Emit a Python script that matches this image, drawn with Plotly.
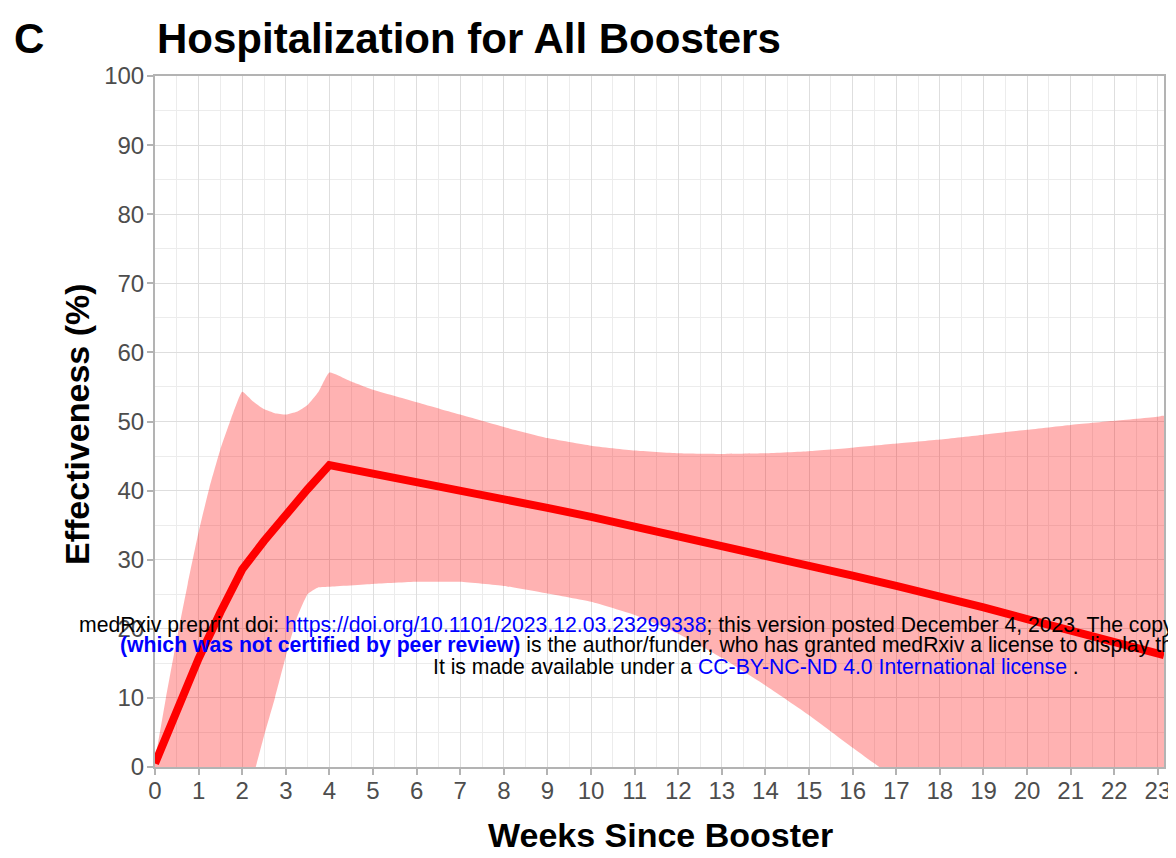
import plotly.graph_objects as go

# ---- data ----
weeks_line = [0, 0.5, 1, 1.5, 2, 2.5, 3, 3.5, 4, 5, 6, 7, 8, 9, 10, 11, 12, 13, 14,
              15, 16, 17, 18, 19, 20, 21, 22, 23, 23.14]
effectiveness = [0.5, 8.4, 15.7, 22.4, 28.6, 32.7, 36.6, 40.2, 43.7, 42.5, 41.3, 40.1,
                 38.8, 37.5, 36.2, 34.8, 33.5, 32.1, 30.7, 29.2, 27.7, 26.2, 24.7,
                 23.1, 21.4, 19.8, 18.1, 16.4, 16.2]

weeks_upper = [0, 0.25, 0.5, 0.75, 1, 1.25, 1.5, 1.75, 2, 2.25, 2.5, 2.75, 3, 3.25,
               3.5, 3.75, 4, 4.5, 5, 5.5, 6, 7, 8, 9, 10, 11, 12, 13, 14, 15, 16,
               17, 18, 19, 20, 21, 22, 23, 23.14]
upper_ci = [1, 10, 18.5, 26.5, 34, 40.5, 46, 50.5, 54.3, 52.9, 51.8, 51.2, 51.0, 51.4,
            52.4, 54.3, 57.1, 55.8, 54.6, 53.7, 52.8, 51.0, 49.2, 47.6, 46.5, 45.8,
            45.4, 45.3, 45.4, 45.7, 46.2, 46.8, 47.4, 48.1, 48.8, 49.5, 50.1, 50.7, 50.8]

weeks_lower = [0, 0.5, 1, 1.5, 2, 2.31, 2.5, 2.75, 3, 3.25, 3.5, 3.75, 4, 5, 6, 7, 8,
               9, 10, 11, 12, 13, 14, 15, 16, 17, 18, 19, 20, 21, 22, 23, 23.14]
lower_ci = [0, -9, -14, -13, -6, 0, 4.5, 10, 16, 21.5, 25, 26, 26.1, 26.5, 26.8, 26.8,
            26.2, 25.1, 23.9, 22.0, 19.3, 15.8, 11.8, 7.5, 2.8, -1.8, -6.8, -12.3,
            -18, -24, -30.5, -37, -38]

x_ticks = list(range(0, 24))
y_ticks = list(range(0, 101, 10))

# ---- geometry helpers (page pixel -> paper) ----
OFF = 8  # default body margin of the html page
W, H = 1176, 858
PLOT_L, PLOT_R, PLOT_T, PLOT_B = 155, 1164, 76, 767  # target page pixels
L = PLOT_L - OFF
T = PLOT_T - OFF
R = W - (PLOT_R - OFF)
B = H - (PLOT_B - OFF)
PW, PH = PLOT_R - PLOT_L, PLOT_B - PLOT_T


def px(x):
    return (x - PLOT_L) / PW


def py(y):
    return (PLOT_B - y) / PH


FONT = "Liberation Sans, Arial, sans-serif"

fig = go.Figure()
fig.add_trace(go.Scatter(
    x=weeks_upper + weeks_lower[::-1],
    y=upper_ci + lower_ci[::-1],
    fill="toself", fillcolor="rgba(255,0,0,0.30)",
    line=dict(width=0, shape="spline", smoothing=0.4), mode="lines",
    hoverinfo="skip", showlegend=False))
fig.add_trace(go.Scatter(
    x=weeks_line, y=effectiveness, mode="lines",
    line=dict(color="#FF0000", width=8), showlegend=False))

axis_common = dict(
    showline=True, mirror=True, linecolor="#b3b3b3", linewidth=2,
    ticks="outside", ticklen=6, tickwidth=1.5, tickcolor="#b3b3b3",
    showgrid=True, gridcolor="#dedede", gridwidth=1, zeroline=False,
    tickfont=dict(family=FONT, size=24, color="#4d4d4d"),
)

fig.update_xaxes(range=[0, 23.14], tickvals=x_ticks, ticklabelstandoff=-5,
                 minor=dict(dtick=0.5, tick0=0, showgrid=True, gridcolor="#ececec", ticks=""),
                 **axis_common)
fig.update_yaxes(range=[0, 100], tickvals=y_ticks, ticklabelstandoff=-2,
                 minor=dict(dtick=5, tick0=0, showgrid=True, gridcolor="#ececec", ticks=""),
                 **axis_common)

ann = []
ann.append(dict(text="<b>C</b>", x=px(12), y=py(39), xanchor="left", yanchor="middle",
                font=dict(family=FONT, size=42, color="black")))
ann.append(dict(text="<b>Hospitalization for All Boosters</b>", x=px(155), y=py(39),
                xanchor="left", yanchor="middle",
                font=dict(family=FONT, size=42, color="black")))
ann.append(dict(text="<b>Effectiveness (%)</b>", x=px(77), y=py(424), textangle=-90,
                xanchor="center", yanchor="middle",
                font=dict(family=FONT, size=34, color="black")))
ann.append(dict(text="<b>Weeks Since Booster</b>", x=px(660), y=py(835),
                xanchor="center", yanchor="middle",
                font=dict(family=FONT, size=34, color="black")))

BLUE = "#0000FF"
line1 = ("medRxiv preprint doi: <span style='color:%s'>https://doi.org/10.1101/2023.12.03.23299338</span>"
         "; this version posted December 4, 2023. The copyright holder for this preprint" % BLUE)
line2 = ("<span style='color:%s'><b>(which was not certified by peer review)</b></span>"
         " is the author/funder, who has granted medRxiv a license to display the preprint in perpetuity." % BLUE)
line3 = ("It is made available under a <span style='color:%s'>CC-BY-NC-ND 4.0 International license</span> ." % BLUE)
for txt, x0, y0 in [(line1, 77, 625), (line2, 118, 645), (line3, 431, 666)]:
    ann.append(dict(text=txt, x=px(x0), y=py(y0), xanchor="left", yanchor="middle",
                    font=dict(family=FONT, size=21.2, color="black")))

for a in ann:
    a.update(xref="paper", yref="paper", showarrow=False)

fig.update_layout(
    width=W, height=H, margin=dict(l=L, r=R, t=T, b=B, pad=0),
    paper_bgcolor="white", plot_bgcolor="white",
    annotations=ann, showlegend=False,
)

fig.write_html("out.html")
